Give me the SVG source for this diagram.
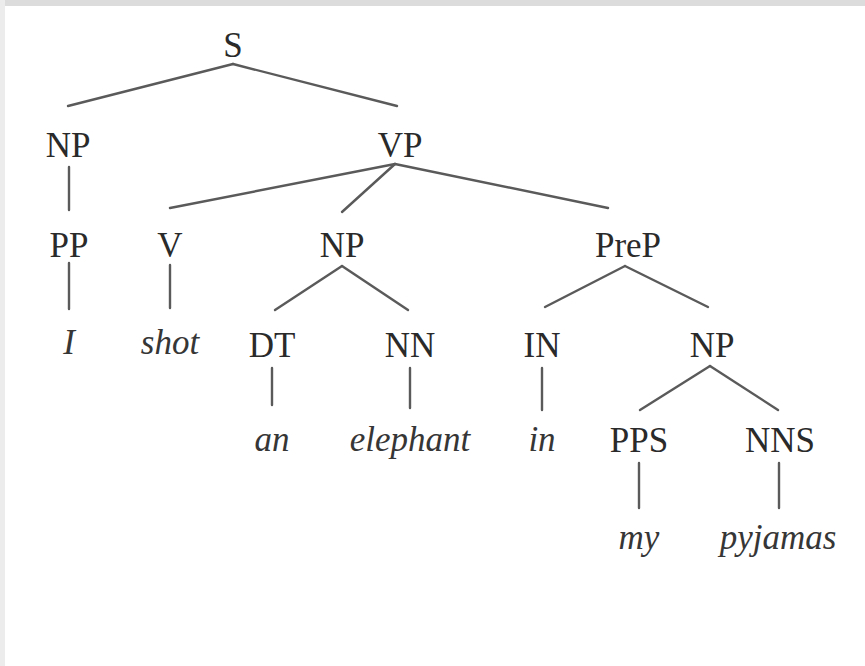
<svg xmlns="http://www.w3.org/2000/svg" width="865" height="666" viewBox="0 0 865 666">
<style>
.lbl{font-family:"Liberation Serif","Times New Roman",serif;font-size:35px;fill:#2a2a2a;text-anchor:middle}
.leaf{font-family:"Liberation Serif","Times New Roman",serif;font-size:35px;font-style:italic;fill:#363636;text-anchor:middle}
.edge{stroke:#5a5a5a;stroke-width:2.4;fill:none;stroke-linecap:round}
</style>
<rect x="0" y="0" width="865" height="666" fill="#ffffff"/>
<rect x="0" y="0" width="865" height="6" fill="#dcdcdc"/>
<rect x="0" y="0" width="5" height="666" fill="#ececec"/>
<g id="connectors">
<line class="edge" x1="233" y1="64" x2="68" y2="106"/>
<line class="edge" x1="233" y1="64" x2="397" y2="106"/>
<line class="edge" x1="69" y1="167" x2="69" y2="210"/>
<line class="edge" x1="69" y1="263" x2="69" y2="309"/>
<line class="edge" x1="395" y1="164" x2="170" y2="208"/>
<line class="edge" x1="395" y1="164" x2="342" y2="212"/>
<line class="edge" x1="395" y1="164" x2="608" y2="208"/>
<line class="edge" x1="170" y1="265" x2="170" y2="308"/>
<line class="edge" x1="342" y1="266" x2="275" y2="310"/>
<line class="edge" x1="342" y1="266" x2="408" y2="310"/>
<line class="edge" x1="625" y1="266" x2="545" y2="307"/>
<line class="edge" x1="625" y1="266" x2="708" y2="307"/>
<line class="edge" x1="272" y1="368" x2="272" y2="405"/>
<line class="edge" x1="410" y1="368" x2="410" y2="408"/>
<line class="edge" x1="542" y1="368" x2="542" y2="410"/>
<line class="edge" x1="710" y1="366" x2="640" y2="410"/>
<line class="edge" x1="710" y1="366" x2="778" y2="410"/>
<line class="edge" x1="639" y1="463" x2="639" y2="508"/>
<line class="edge" x1="779" y1="463" x2="779" y2="508"/>
</g>
<g id="n-S"><text class="lbl" x="233" y="57">S</text></g>
<g id="n-NP1"><text class="lbl" x="68" y="157">NP</text></g>
<g id="n-VP"><text class="lbl" x="400" y="157">VP</text></g>
<g id="n-PP"><text class="lbl" x="69" y="257">PP</text></g>
<g id="n-V"><text class="lbl" x="170" y="257">V</text></g>
<g id="n-NP2"><text class="lbl" x="342" y="257">NP</text></g>
<g id="n-PreP"><text class="lbl" x="628" y="257">PreP</text></g>
<g id="n-I"><text class="leaf" x="69" y="354">I</text></g>
<g id="n-shot"><text class="leaf" x="170" y="354">shot</text></g>
<g id="n-DT"><text class="lbl" x="272" y="357">DT</text></g>
<g id="n-NN"><text class="lbl" x="410" y="357">NN</text></g>
<g id="n-IN"><text class="lbl" x="542" y="357">IN</text></g>
<g id="n-NP3"><text class="lbl" x="712" y="357">NP</text></g>
<g id="n-an"><text class="leaf" x="272" y="451">an</text></g>
<g id="n-elephant"><text class="leaf" x="410" y="451">elephant</text></g>
<g id="n-in"><text class="leaf" x="542" y="451">in</text></g>
<g id="n-PPS"><text class="lbl" x="639" y="452">PPS</text></g>
<g id="n-NNS"><text class="lbl" x="780" y="452">NNS</text></g>
<g id="n-my"><text class="leaf" x="639" y="549">my</text></g>
<g id="n-pyjamas"><text class="leaf" x="778" y="549">pyjamas</text></g>
</svg>
